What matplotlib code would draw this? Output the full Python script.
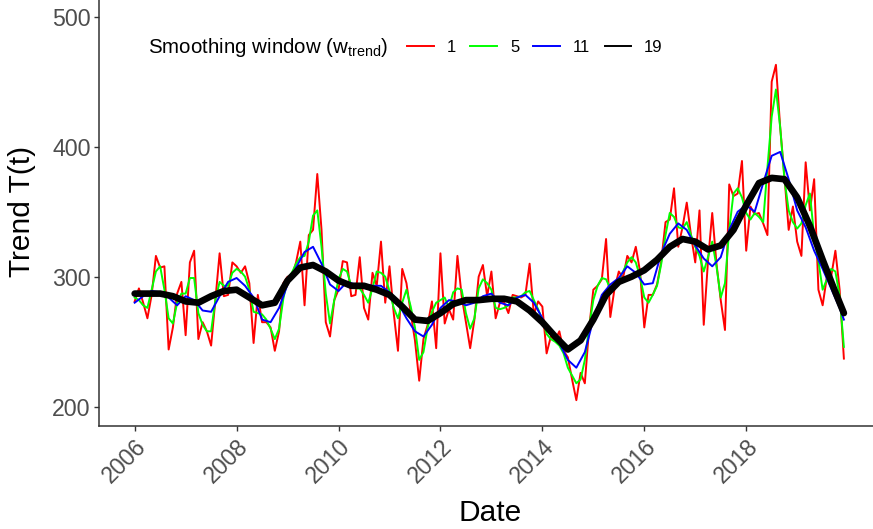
import numpy as np
import matplotlib.pyplot as plt
from matplotlib.lines import Line2D

plt.rcParams['font.family'] = ['Liberation Sans', 'DejaVu Sans']
plt.rcParams['mathtext.fontset'] = 'custom'
plt.rcParams['mathtext.rm'] = 'Liberation Sans'

# monthly series, Jan 2006 - Dec 2019
months = 2006 + np.arange(168) / 12

# window 1 (raw)
red = [281, 291, 280, 268, 286, 316, 307, 308, 244, 261, 287, 296,
       255, 311, 320, 252, 265, 258, 247, 282, 318, 285, 286, 311,
       308, 303, 308, 295, 249, 286, 265, 265, 261, 243, 258, 295,
       300, 300, 311, 327, 278, 332, 336, 379, 336, 265, 254, 282,
       290, 312, 311, 285, 286, 315, 276, 267, 303, 293, 327, 280,
       308, 272, 243, 306, 295, 272, 251, 220, 252, 263, 281, 245,
       318, 264, 275, 267, 316, 285, 265, 245, 267, 300, 309, 285,
       304, 268, 280, 280, 272, 286, 285, 284, 286, 310, 271, 281,
       277, 241, 254, 251, 258, 243, 238, 221, 205, 226, 218, 260,
       290, 293, 298, 329, 269, 291, 304, 299, 316, 311, 323, 304,
       261, 286, 286, 294, 312, 342, 344, 368, 323, 338, 357, 332,
       311, 351, 263, 312, 349, 310, 282, 259, 371, 362, 364, 389,
       320, 354, 348, 349, 341, 332, 450, 463, 415, 377, 336, 354,
       327, 316, 388, 351, 375, 290, 278, 300, 300, 320, 290, 237]

# window 5
green = [284, 282, 278, 276, 290, 304, 308, 290, 268, 264, 280, 287,
         287, 299, 299, 272, 263, 258, 258, 282, 296, 293, 293, 303,
         306, 304, 300, 290, 273, 272, 271, 267, 260, 252, 260, 283,
         298, 303, 310, 315, 316, 327, 347, 351, 323, 287, 264, 282,
         298, 306, 304, 293, 291, 291, 286, 280, 291, 304, 303, 300,
         289, 276, 268, 280, 290, 277, 261, 236, 242, 261, 273, 280,
         282, 284, 276, 288, 291, 290, 272, 260, 268, 291, 298, 295,
         290, 276, 275, 276, 278, 284, 284, 285, 288, 289, 282, 275,
         267, 256, 252, 250, 247, 241, 230, 224, 218, 221, 236, 261,
         282, 293, 299, 298, 291, 293, 298, 304, 311, 315, 311, 300,
         284, 280, 286, 293, 310, 332, 349, 346, 338, 337, 342, 332,
         323, 316, 304, 315, 327, 308, 284, 295, 336, 364, 368, 361,
         349, 344, 349, 346, 342, 384, 423, 444, 415, 375, 351, 342,
         337, 341, 355, 364, 331, 312, 290, 298, 306, 304, 285, 246]

# window 11 (read every second month)
blue_idx = np.r_[0:168:2, 167]
blue = [280, 285, 289, 288, 284, 278, 285, 282, 274, 273, 285, 296,
        299, 293, 284, 267, 265, 276, 294, 307, 319, 323, 310, 294,
        289, 296, 294, 294, 293, 293, 288, 280, 268, 258, 254, 263,
        276, 282, 281, 278, 280, 285, 287, 280, 278, 284, 286, 280,
        268, 256, 249, 236, 230, 242, 267, 286, 294, 299, 308, 303,
        294, 295, 318, 333, 341, 336, 324, 314, 308, 315, 336, 350,
        355, 350, 372, 393, 396, 375, 351, 338, 320, 306, 291, 276, 267]

# window 19 (read every third month)
black_idx = np.r_[0:168:3, 167]
black = [287, 287, 287, 285, 281, 280, 285, 289, 290, 284,
         278, 280, 297, 307, 309, 304, 297, 293, 293, 290,
         286, 277, 267, 266, 272, 279, 282, 282, 283, 283,
         281, 274, 265, 254, 244, 251, 267, 286, 296, 300,
         305, 313, 323, 329, 327, 321, 324, 336, 355, 372,
         376, 375, 361, 339, 313, 288, 272]

windows = ['1', '5', '11', '19']
colors = ['#FF0000', '#00FF00', '#0000FF', '#000000']

W, H = 873, 529
fig = plt.figure(figsize=(W / 100, H / 100), dpi=100)
ax = fig.add_axes([99 / W, 1 - 426.2 / H, (873 - 99) / W, 429 / H])

ax.plot(months, red, color=colors[0], lw=1.4, solid_joinstyle='round')
ax.plot(months, green, color=colors[1], lw=1.4, solid_joinstyle='round')
ax.plot(months[blue_idx], blue, color=colors[2], lw=1.4, solid_joinstyle='round')
ax.plot(months[black_idx], black, color=colors[3], lw=4.8,
        solid_joinstyle='round', solid_capstyle='round')

ax.set_xlim(2005.30, 2020.488)
ax.set_ylim(185, 515)
ax.set_xticks(range(2006, 2019, 2))
ax.set_yticks([200, 300, 400, 500])

for s in ['top', 'right']:
    ax.spines[s].set_visible(False)
for s in ['left', 'bottom']:
    ax.spines[s].set_color('#333333')
    ax.spines[s].set_linewidth(1.1)

ax.tick_params(direction='out', length=3.6, width=1.0, color='#333333',
               labelcolor='#4D4D4D', labelsize=16.7, pad=2.5)
for lab in ax.get_xticklabels():
    lab.set_rotation(45)
    lab.set_ha('right')
    lab.set_va('top')
    lab.set_rotation_mode('anchor')

fig.text(490 / W, 1 - 513 / H, 'Date', ha='center', va='center', fontsize=21.5)
fig.text(22 / W, 1 - 211.7 / H, 'Trend T(t)', ha='center', va='center',
         rotation=90, fontsize=21.5)

# legend, title on the left like ggplot
fig.text(148 / W, 1 - 53.3 / H, r'Smoothing window ($\mathrm{w}_{\mathrm{trend}}$)',
         ha='left', va='baseline', fontsize=14.8)
handles = [Line2D([], [], color=c, lw=1.4) for c in colors]
fig.legend(handles, windows, ncol=4, loc='center left',
           bbox_to_anchor=(407.3 / W, 1 - 47 / H), frameon=False,
           fontsize=12, borderpad=0, borderaxespad=0,
           handlelength=1.6, handletextpad=0.78, columnspacing=0.85)

fig.savefig('out.png', dpi=100)
